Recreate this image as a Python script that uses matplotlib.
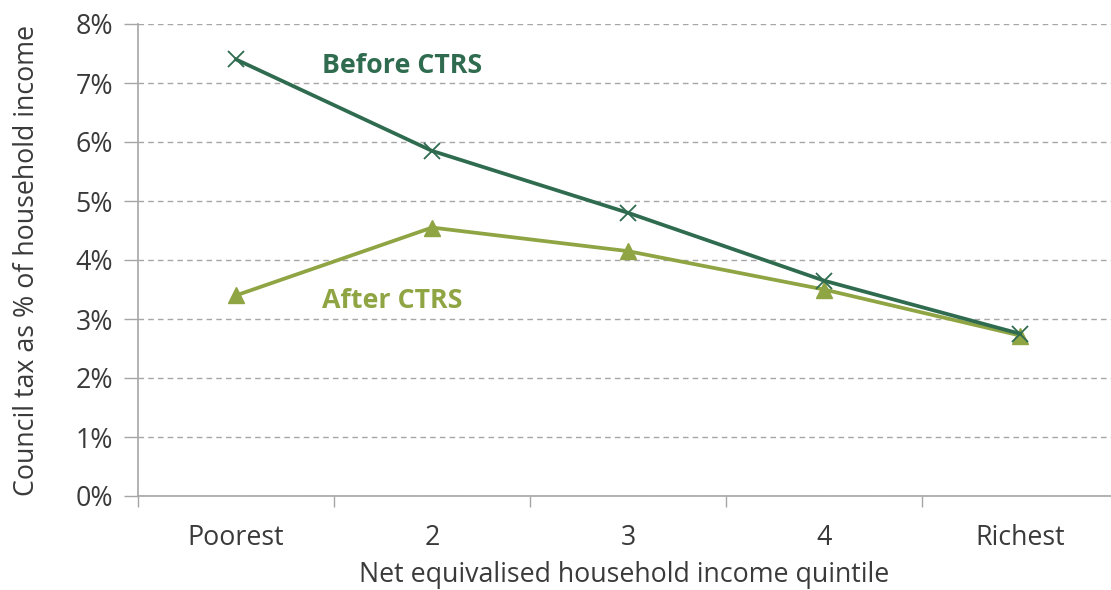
import matplotlib
matplotlib.use("Agg")
import matplotlib.pyplot as plt

plt.rcParams['font.family'] = ['Open Sans', 'DejaVu Sans']

## data ##############
quintiles = ['Poorest', '2', '3', '4', 'Richest']
before_ctrs = [7.4, 5.85, 4.8, 3.65, 2.75]
after_ctrs = [3.4, 4.55, 4.15, 3.5, 2.72]

dark_green = '#2f6b4f'
olive = '#8fa443'
grey = '#a6a6a6'
text_col = '#3a3a3a'
fs = 19.3

fig = plt.figure(figsize=(11.11, 5.90), dpi=100)
ax = fig.add_axes([138 / 1111, 94 / 590, 1 - 138 / 1111, 472 / 590])

xs = list(range(len(quintiles)))
ax.plot(xs, after_ctrs, color=olive, lw=2.7, marker='^', ms=11, zorder=3)
ax.plot(xs, before_ctrs, color=dark_green, lw=2.7, marker='x', ms=11, mew=1.3, zorder=4)

ax.text(0.44, 7.28, 'Before CTRS', color=dark_green, fontsize=fs, fontweight='bold', va='center')
ax.text(0.44, 3.31, 'After CTRS', color=olive, fontsize=fs, fontweight='bold', va='center')

### assen ###
ax.set_xlim(-0.5, 4.464)
ax.set_ylim(0, 8)
ax.set_yticks(range(0, 9))
ax.set_yticklabels([f'{v}%' for v in range(0, 9)])
ax.set_xticks(xs)
ax.set_xticklabels(quintiles)
ax.set_xticks([-0.5, 0.5, 1.5, 2.5, 3.5], minor=True)
ax.tick_params(axis='x', which='major', length=0, pad=20.5, labelsize=fs, labelcolor=text_col)
ax.tick_params(axis='x', which='minor', length=8, width=1, color=grey, direction='out')
ax.tick_params(axis='y', length=10, width=1, color=grey, labelsize=fs, labelcolor=text_col, pad=8)

for s in ['top', 'right']:
    ax.spines[s].set_visible(False)
for s in ['left', 'bottom']:
    ax.spines[s].set_color(grey)
    ax.spines[s].set_linewidth(1.2)

ax.yaxis.grid(True, color=grey, linestyle=(0, (4, 3)), lw=1)
ax.set_axisbelow(True)

ax.set_xlabel('Net equivalised household income quintile', fontsize=fs, color=text_col, labelpad=6)
ax.set_ylabel('Council tax as % of household income', fontsize=fs, color=text_col, labelpad=25)

fig.savefig('out.png', dpi=100)
